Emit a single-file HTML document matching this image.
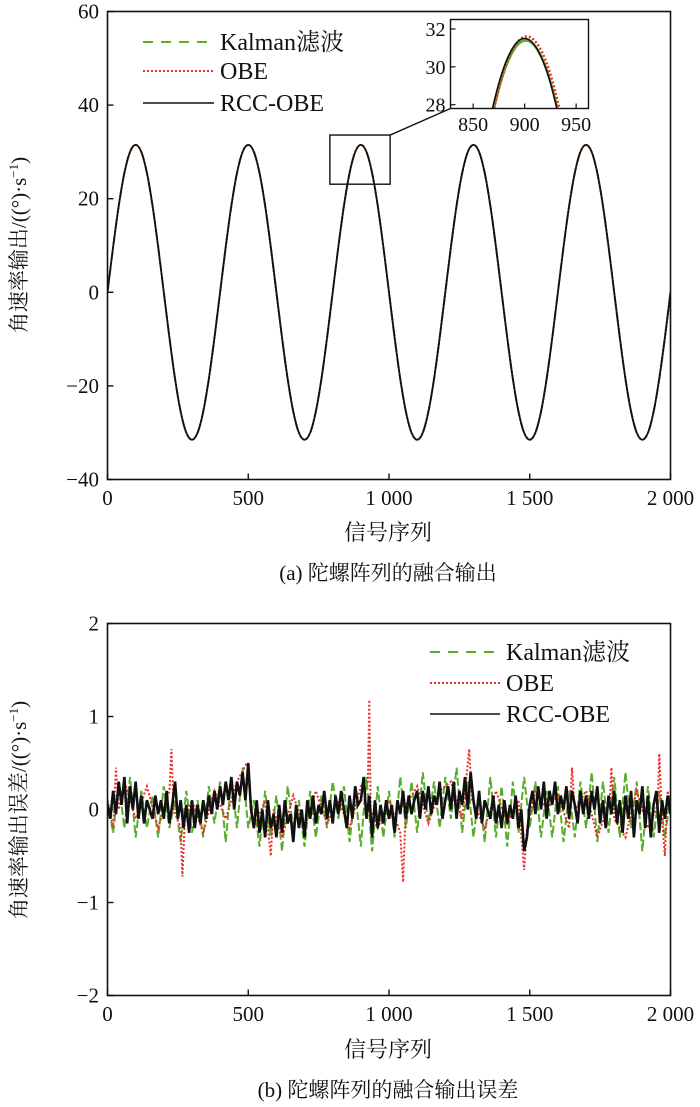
<!DOCTYPE html>
<html><head><meta charset="utf-8"><style>
html,body{margin:0;background:#fff;overflow:hidden;width:700px;height:1107px;}
svg{display:block;}
text{font-family:"Liberation Serif","Noto Serif CJK SC","Noto Sans CJK SC",serif;}
</style></head><body>
<svg id="s" width="700" height="1107" xmlns="http://www.w3.org/2000/svg"></svg>
<script>
// ---------- data ----------
const topX = [0,20,40,60,80,100,120,140,160,180,200,220,240,260,280,300,320,340,360,380,400,420,440,460,480,500,520,540,560,580,600,620,640,660,680,700,720,740,760,780,800,820,840,860,880,900,920,940,960,980,1000,1020,1040,1060,1080,1100,1120,1140,1160,1180,1200,1220,1240,1260,1280,1300,1320,1340,1360,1380,1400,1420,1440,1460,1480,1500,1520,1540,1560,1580,1600,1620,1640,1660,1680,1700,1720,1740,1760,1780,1800,1820,1840,1860,1880,1900,1920,1940,1960,1980,2000];
const topY = [0,9.7,18.5,25.5,30.0,31.5,30.0,25.5,18.5,9.7,0,-9.7,-18.5,-25.5,-30.0,-31.5,-30.0,-25.5,-18.5,-9.7,
0,9.7,18.5,25.5,30.0,31.5,30.0,25.5,18.5,9.7,0,-9.7,-18.5,-25.5,-30.0,-31.5,-30.0,-25.5,-18.5,-9.7,
0,9.7,18.5,25.5,30.0,31.5,30.0,25.5,18.5,9.7,0,-9.7,-18.5,-25.5,-30.0,-31.5,-30.0,-25.5,-18.5,-9.7,
0,9.7,18.5,25.5,30.0,31.5,30.0,25.5,18.5,9.7,0,-9.7,-18.5,-25.5,-30.0,-31.5,-30.0,-25.5,-18.5,-9.7,
0,9.7,18.5,25.5,30.0,31.5,30.0,25.5,18.5,9.7,0,-9.7,-18.5,-25.5,-30.0,-31.5,-30.0,-25.5,-18.5,-9.7,0];
const xTicks = [0,500,1000,1500,2000];
const xTickLabels = ["0","500","1 000","1 500","2 000"];
const topYTicks = [-40,-20,0,20,40,60];
const botYTicks = [-2,-1,0,1,2];
const insetXTicks = [850,900,950];
const insetYTicks = [28,30,32];
const errBlack = [0.05,-0.1,0.2,-0.05,0.3,0.05,0.35,-0.15,0.25,0.0,0.3,
-0.1,0.15,-0.15,0.1,0.0,-0.1,0.15,-0.05,0.1,-0.1,
0.2,-0.15,0.05,0.3,-0.1,0.1,-0.2,0.05,-0.25,0.1,
-0.2,0.05,-0.15,0.1,-0.1,0.15,-0.05,0.2,0.0,0.25,
0.05,0.3,0.1,0.35,0.0,0.3,0.15,0.4,0.1,0.5,
0.0,-0.2,0.1,-0.25,0.0,-0.3,0.1,-0.2,-0.05,-0.3,
0.05,-0.25,0.1,-0.15,-0.05,-0.35,0.05,-0.2,0.0,-0.3,
0.1,-0.1,0.15,-0.15,0.05,-0.05,0.2,-0.1,0.1,-0.15,
0.15,-0.05,0.2,0.0,-0.2,0.15,-0.1,0.25,0.05,0.1,
0.35,-0.1,0.15,-0.3,0.1,-0.2,0.05,-0.15,0.1,-0.1,
0.05,-0.25,0.1,-0.05,0.2,-0.1,0.15,-0.05,0.1,0.2,
-0.1,0.2,0.0,0.25,-0.05,0.15,0.05,0.3,-0.1,0.1,
0.25,0.0,0.3,-0.1,0.2,0.05,0.35,0.0,0.4,0.1,
-0.1,0.2,-0.15,0.1,0.0,-0.1,0.15,-0.15,0.05,-0.2,
0.1,-0.15,0.05,-0.1,0.15,-0.2,0.0,-0.45,-0.3,0.05,
0.2,-0.05,0.25,0.0,0.3,-0.1,0.2,0.05,0.3,-0.05,
0.15,0.0,0.25,-0.1,0.2,0.05,-0.15,0.2,-0.05,0.15,
-0.1,0.2,0.0,0.25,-0.15,0.1,-0.2,0.15,-0.05,0.2,
-0.15,0.1,-0.25,0.15,-0.1,0.2,-0.3,0.1,-0.05,0.25,
-0.2,0.15,-0.3,0.05,0.2,-0.25,0.1,-0.1,0.15,-0.05,0.1];
const errGreen = [0.1,-0.25,0.3,-0.2,0.35,-0.3,0.2,-0.2,0.15,-0.3,
0.25,-0.2,0.1,-0.35,0.2,-0.25,0.1,-0.3,0.25,-0.15,
0.3,-0.35,0.35,-0.2,0.45,-0.2,0.1,-0.4,0.2,-0.3,
0.15,-0.45,0.25,-0.2,0.1,-0.4,0.2,-0.3,0.15,-0.2,
0.3,-0.1,0.25,-0.35,0.2,-0.4,0.35,-0.45,0.25,-0.3,
0.2,-0.3,0.35,-0.2,0.3,-0.25,0.4,-0.15,0.3,-0.2,
0.35,-0.1,0.45,-0.25,0.3,-0.3,0.2,-0.35,0.35,-0.3,
0.25,-0.4,0.3,-0.25,0.35,-0.2,0.3,-0.3,0.2,-0.3,
0.25,-0.35,0.2,-0.3,0.3,-0.2,0.4,-0.35,0.3,-0.25,
0.35,-0.3,0.4,-0.2,0.3,-0.45,0.25,-0.3,0.2,-0.3,0.15];
const errRedX = [0,20,30,40,60,100,140,180,220,227,235,260,266,275,300,340,380,420,460,495,520,560,580,590,620,660,700,740,780,820,860,900,925,930,935,960,1000,1040,1050,1060,1100,1140,1180,1220,1260,1285,1295,1340,1380,1420,1460,1480,1490,1520,1560,1600,1640,1650,1660,1700,1740,1785,1790,1800,1840,1880,1920,1955,1960,1970,1980,1990,2000];
const errRedY = [0.1,-0.2,0.45,0.0,0.3,-0.1,0.25,-0.2,0.2,0.65,0.0,-0.2,-0.72,-0.1,0.1,-0.25,0.2,-0.1,0.3,0.5,-0.2,0.1,-0.5,0.0,-0.3,0.15,-0.2,0.2,-0.15,0.1,-0.2,0.25,0.3,1.18,0.0,-0.2,0.1,-0.25,-0.78,0.05,0.25,-0.15,0.2,0.3,-0.1,0.65,0.1,-0.2,0.2,-0.15,0.1,-0.65,-0.2,0.2,0.0,0.15,-0.2,0.45,0.0,0.2,-0.3,0.1,0.45,-0.1,-0.3,0.2,-0.2,0.05,0.6,-0.1,-0.5,0.2,0.0];

// ---------- helpers ----------
const NS="http://www.w3.org/2000/svg", S=document.getElementById('s');
const FF='"Liberation Serif","Noto Serif CJK SC","Noto Sans CJK SC",serif';
function el(tag,attrs,parent){const e=document.createElementNS(NS,tag);for(const k in attrs)e.setAttribute(k,attrs[k]);(parent||S).appendChild(e);return e;}
function txt(str,x,y,size,anchor,parent){const t=el('text',{x:x,y:y,'font-size':size,'text-anchor':anchor||'middle',fill:'#111','font-family':FF},parent);t.textContent=str;return t;}
function smoothPath(pts){let d='M'+pts[0][0].toFixed(2)+','+pts[0][1].toFixed(2);
 for(let i=0;i<pts.length-1;i++){const p0=pts[Math.max(i-1,0)],p1=pts[i],p2=pts[i+1],p3=pts[Math.min(i+2,pts.length-1)];
 d+=' C'+(p1[0]+(p2[0]-p0[0])/6).toFixed(2)+','+(p1[1]+(p2[1]-p0[1])/6).toFixed(2)+' '+(p2[0]-(p3[0]-p1[0])/6).toFixed(2)+','+(p2[1]-(p3[1]-p1[1])/6).toFixed(2)+' '+p2[0].toFixed(2)+','+p2[1].toFixed(2);}
 return d;}
function linePath(pts){return 'M'+pts.map(p=>p[0].toFixed(2)+','+p[1].toFixed(2)).join(' L');}

const L=107.5,R=670.5;
const sx=v=>L+(v-0)/(2000-0)*(R-L);
// ---------- TOP CHART ----------
const T1=11.5,B1=479.5;
const sy1=v=>B1-(v+40)/100*(B1-T1);
const g1=el('g',{});


const cp1=el('clipPath',{id:'c1'});el('rect',{x:L,y:T1,width:R-L,height:B1-T1},cp1);
const topPts=topX.map((x,i)=>[sx(x),sy1(topY[i])]);
const sg=el('g',{'clip-path':'url(#c1)'},g1);
let p=el('path',{d:smoothPath(topPts),fill:'none',stroke:'#5aac2a','stroke-width':2,'stroke-dasharray':'10 6'},sg);

p=el('path',{d:smoothPath(topPts),fill:'none',stroke:'#e8302a','stroke-width':2,'stroke-dasharray':'2 2'},sg);

p=el('path',{d:smoothPath(topPts),fill:'none',stroke:'#111','stroke-width':1.8},sg);

let fr=el('rect',{x:L,y:T1,width:R-L,height:B1-T1,fill:'none',stroke:'#111','stroke-width':1.6},g1);

topYTicks.forEach(v=>{el('line',{x1:L,x2:L+6,y1:sy1(v),y2:sy1(v),stroke:'#111','stroke-width':1.4},g1);
 const t=txt(v<0?'\u2212'+(-v):String(v),99,sy1(v)+7,21,'end',g1);
 });
xTicks.forEach((v,i)=>{el('line',{x1:sx(v),x2:sx(v),y1:B1,y2:B1-6,stroke:'#111','stroke-width':1.4},g1);
 const t=txt(xTickLabels[i],sx(v),505,21,'middle',g1);
 });
let t=txt('信号序列',388,540,22,'middle',g1);
t=txt('(a) 陀螺阵列的融合输出',388,580,21,'middle',g1);
t=el('text',{x:0,y:0,'font-size':21,'text-anchor':'middle',fill:'#111','font-family':FF,transform:'translate(26,245) rotate(-90)'},g1);
t.innerHTML='角速率输出/((°)·s<tspan dy="-8" font-size="13">−1</tspan><tspan dy="8">)</tspan>';

function legend(parent,x0,x1,tx,ys,size){
 const items=[['Kalman滤波','#5aac2a','10 8',2],['OBE','#e8302a','2 2',2],['RCC-OBE','#111','',1.6]];
 items.forEach((it,i)=>{const lg=el('g',{},parent);
  
  const a={x1:x0,x2:x1,y1:ys[i],y2:ys[i],stroke:it[1],'stroke-width':it[3]};if(it[2])a['stroke-dasharray']=it[2];
  el('line',a,lg);txt(it[0],tx,ys[i]+8,size,'start',lg);});
}
legend(g1,143,214,220,[42,71,103],24);
// zoom box and connector
const zb=el('rect',{x:sx(790),y:sy1(33.6),width:sx(1004)-sx(790),height:sy1(23.1)-sy1(33.6),fill:'none',stroke:'#111','stroke-width':1.4},g1);

const IL=450.5,IR=588.5,IT=19.5,IB=108.5;
const ix=v=>IL+(v-828)/(962-828)*(IR-IL);
const iy=v=>IB-(v-27.8)/(32.5-27.8)*(IB-IT);
el('line',{x1:sx(1004),y1:sy1(33.6),x2:IL,y2:IB,stroke:'#111','stroke-width':1.4},g1);
const ig=el('g',{},g1);
el('rect',{x:IL,y:IT,width:IR-IL,height:IB-IT,fill:'#fff'},ig);
const cp=el('clipPath',{id:'c2'});el('rect',{x:IL,y:IT,width:IR-IL,height:IB-IT},cp);
const ipts=topX.map((x,i)=>[ix(x),iy(topY[i])]);
const icg=el('g',{'clip-path':'url(#c2)'},ig);
el('path',{d:smoothPath(ipts),fill:'none',stroke:'#5aac2a','stroke-width':2.5,transform:'translate(1,2)'},icg);
el('path',{d:smoothPath(ipts),fill:'none',stroke:'#e8302a','stroke-width':2.5,'stroke-dasharray':'2 2',transform:'translate(2,-2)'},icg);
el('path',{d:smoothPath(ipts),fill:'none',stroke:'#111','stroke-width':1.6},icg);
el('rect',{x:IL,y:IT,width:IR-IL,height:IB-IT,fill:'none',stroke:'#111','stroke-width':1.4},ig);
insetYTicks.forEach(v=>{el('line',{x1:IL,x2:IL+5,y1:iy(v),y2:iy(v),stroke:'#111','stroke-width':1.2},ig);txt(String(v),IL-5,iy(v)+7,20,'end',ig);});
insetXTicks.forEach(v=>{el('line',{x1:ix(v),x2:ix(v),y1:IB,y2:IB-5,stroke:'#111','stroke-width':1.2},ig);txt(String(v),ix(v),131,20,'middle',ig);});

// ---------- BOTTOM CHART ----------
const T2=623.5,B2=995.5;
const sy2=v=>B2-(v+2)/4*(B2-T2);
const g2=el('g',{});
const cp3=el('clipPath',{id:'c3'});el('rect',{x:L,y:T2,width:R-L,height:B2-T2},cp3);
const bg=el('g',{'clip-path':'url(#c3)'},g2);
const gp=errGreen.map((v,i)=>[sx(i*20),sy2(v)]);
p=el('path',{d:linePath(gp),fill:'none',stroke:'#5aac2a','stroke-width':2,'stroke-dasharray':'8 3'},bg);

const rp=errRedX.map((x,i)=>[sx(x),sy2(errRedY[i])]);
p=el('path',{d:linePath(rp),fill:'none',stroke:'#e8302a','stroke-width':2,'stroke-dasharray':'2 2'},bg);

const kp=errBlack.map((v,i)=>[sx(i*10),sy2(v)]);
p=el('path',{d:linePath(kp),fill:'none',stroke:'#111','stroke-width':2.6},bg);

fr=el('rect',{x:L,y:T2,width:R-L,height:B2-T2,fill:'none',stroke:'#111','stroke-width':1.6},g2);

botYTicks.forEach(v=>{el('line',{x1:L,x2:L+6,y1:sy2(v),y2:sy2(v),stroke:'#111','stroke-width':1.4},g2);
 const t=txt(v<0?'\u2212'+(-v):String(v),99,sy2(v)+7,21,'end',g2);
 });
xTicks.forEach((v,i)=>{el('line',{x1:sx(v),x2:sx(v),y1:B2,y2:B2-6,stroke:'#111','stroke-width':1.4},g2);
 const t=txt(xTickLabels[i],sx(v),1021,21,'middle',g2);
 });
t=txt('信号序列',388,1057,22,'middle',g2);
t=txt('(b) 陀螺阵列的融合输出误差',388,1097,21,'middle',g2);
t=el('text',{x:0,y:0,'font-size':21,'text-anchor':'middle',fill:'#111','font-family':FF,transform:'translate(26,810) rotate(-90)'},g2);
t.innerHTML='角速率输出误差/((°)·s<tspan dy="-8" font-size="13">−1</tspan><tspan dy="8">)</tspan>';

legend(g2,430,500,506,[652,683,714],24);
</script>
</body></html>
